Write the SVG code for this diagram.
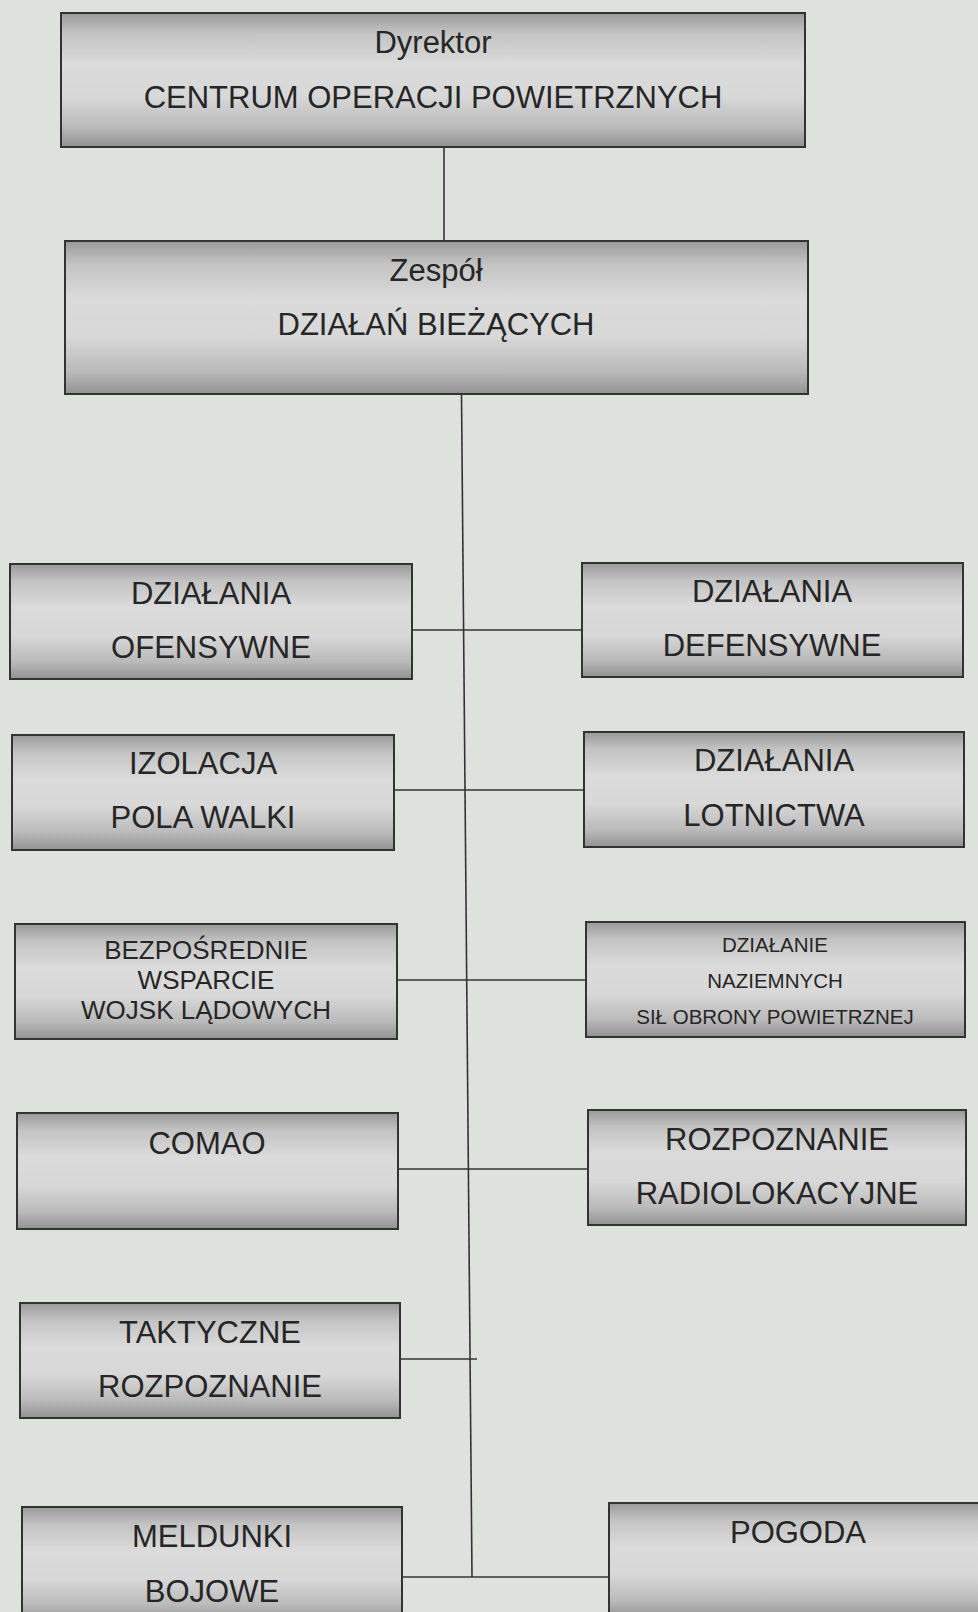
<svg xmlns="http://www.w3.org/2000/svg" width="978" height="1612" viewBox="0 0 978 1612">
  <defs>
    <!-- metallic band shading used by every box -->
    <linearGradient id="boxFill" x1="0" y1="0" x2="0" y2="1">
      <stop offset="0" stop-color="#999999"/>
      <stop offset="0.15" stop-color="#c3c3c3"/>
      <stop offset="0.38" stop-color="#dbdbdb"/>
      <stop offset="0.62" stop-color="#d8d8d8"/>
      <stop offset="0.85" stop-color="#bababa"/>
      <stop offset="1" stop-color="#929292"/>
    </linearGradient>
    <style>
      .box { fill: url(#boxFill); stroke: #333; stroke-width: 2; }
      .lbl { font-family: "Liberation Sans", Arial, sans-serif; font-size: 31px; fill: #262626; text-anchor: middle; }
      .mid { font-size: 26px; }
      .sm { font-size: 20.5px; }
      .wire { stroke: #333; stroke-width: 1.6; fill: none; }
    </style>
  </defs>

  <rect width="978" height="1612" fill="#dee2dd"/>

  <g id="connectors">
    <line class="wire" x1="444" y1="147" x2="444" y2="241"/>
    <line class="wire" x1="461.5" y1="394" x2="472" y2="1577"/>
    <line class="wire" x1="412" y1="630" x2="582" y2="630"/>
    <line class="wire" x1="394" y1="790" x2="584" y2="790"/>
    <line class="wire" x1="397" y1="980" x2="586" y2="980"/>
    <line class="wire" x1="398" y1="1169" x2="588" y2="1169"/>
    <line class="wire" x1="400" y1="1359" x2="477" y2="1359"/>
    <line class="wire" x1="402" y1="1577" x2="609" y2="1577"/>
  </g>

  <g id="dyrektor">
    <rect class="box" x="61" y="13" width="744" height="134"/>
    <text class="lbl" x="433" y="53">Dyrektor</text>
    <text class="lbl" x="433" y="108">CENTRUM OPERACJI POWIETRZNYCH</text>
  </g>

  <g id="zespol">
    <rect class="box" x="65" y="241" width="743" height="153"/>
    <text class="lbl" x="436" y="281">Zespół</text>
    <text class="lbl" x="436" y="335">DZIAŁAŃ BIEŻĄCYCH</text>
  </g>

  <g id="ofensywne">
    <rect class="box" x="10" y="564" width="402" height="115"/>
    <text class="lbl" x="211" y="604">DZIAŁANIA</text>
    <text class="lbl" x="211" y="658">OFENSYWNE</text>
  </g>

  <g id="defensywne">
    <rect class="box" x="582" y="563" width="381" height="114"/>
    <text class="lbl" x="772" y="602">DZIAŁANIA</text>
    <text class="lbl" x="772" y="656">DEFENSYWNE</text>
  </g>

  <g id="izolacja">
    <rect class="box" x="12" y="735" width="382" height="115"/>
    <text class="lbl" x="203" y="774">IZOLACJA</text>
    <text class="lbl" x="203" y="828">POLA WALKI</text>
  </g>

  <g id="lotnictwo">
    <rect class="box" x="584" y="732" width="380" height="115"/>
    <text class="lbl" x="774" y="771">DZIAŁANIA</text>
    <text class="lbl" x="774" y="826">LOTNICTWA</text>
  </g>

  <g id="wsparcie">
    <rect class="box" x="15" y="924" width="382" height="115"/>
    <text class="lbl mid" x="206" y="959">BEZPOŚREDNIE</text>
    <text class="lbl mid" x="206" y="989">WSPARCIE</text>
    <text class="lbl mid" x="206" y="1019">WOJSK LĄDOWYCH</text>
  </g>

  <g id="obrona">
    <rect class="box" x="586" y="922" width="379" height="115"/>
    <text class="lbl sm" x="775" y="952">DZIAŁANIE</text>
    <text class="lbl sm" x="775" y="988">NAZIEMNYCH</text>
    <text class="lbl sm" x="775" y="1024">SIŁ OBRONY POWIETRZNEJ</text>
  </g>

  <g id="comao">
    <rect class="box" x="17" y="1113" width="381" height="116"/>
    <text class="lbl" x="207" y="1154">COMAO</text>
  </g>

  <g id="radiolokacja">
    <rect class="box" x="588" y="1110" width="378" height="115"/>
    <text class="lbl" x="777" y="1150">ROZPOZNANIE</text>
    <text class="lbl" x="777" y="1204">RADIOLOKACYJNE</text>
  </g>

  <g id="taktyczne">
    <rect class="box" x="20" y="1303" width="380" height="115"/>
    <text class="lbl" x="210" y="1343">TAKTYCZNE</text>
    <text class="lbl" x="210" y="1397">ROZPOZNANIE</text>
  </g>

  <g id="meldunki">
    <rect class="box" x="22" y="1507" width="380" height="115"/>
    <text class="lbl" x="212" y="1547">MELDUNKI</text>
    <text class="lbl" x="212" y="1602">BOJOWE</text>
  </g>

  <g id="pogoda">
    <rect class="box" x="609" y="1503" width="378" height="115"/>
    <text class="lbl" x="798" y="1543">POGODA</text>
  </g>
</svg>
